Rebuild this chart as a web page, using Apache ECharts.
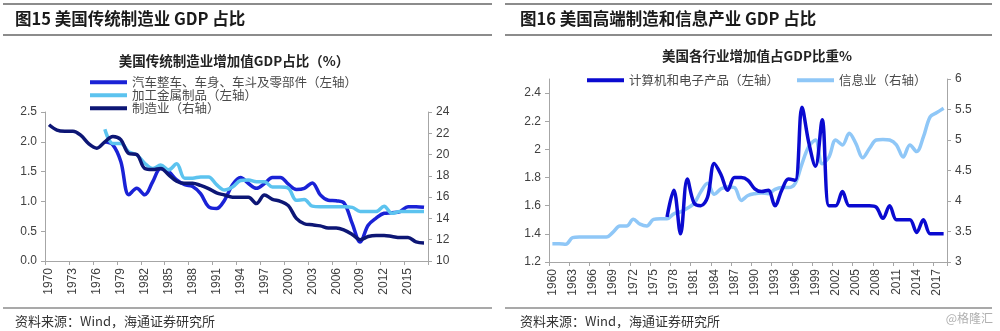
<!DOCTYPE html>
<html>
<head>
<meta charset="utf-8">
<script src="https://cdn.jsdelivr.net/npm/echarts@6/dist/echarts.min.js"></script>
<style>html,body{margin:0;padding:0;background:#fff}#c{width:1000px;height:331px}</style>
</head>
<body>
<div id="c"></div>
<script>
// ---- Left chart data (1970-2017) ----
var years1 = [];
for (var y = 1970; y <= 2017; y++) years1.push(String(y));
var autoParts = [null,null,null,null,null,null,null,
  2.00,1.95,1.67,1.11,1.22,1.11,1.33,1.55,1.50,1.36,
  1.28,1.25,1.13,0.91,0.88,1.02,1.28,1.40,1.30,1.22,
  1.30,1.40,1.40,1.29,1.20,1.22,1.31,1.11,1.02,1.01,
  0.97,0.63,0.32,0.60,0.72,0.80,0.81,0.83,0.91,0.91,
  0.90];
var metalProducts = [null,null,null,null,null,null,null,
  2.21,1.97,1.97,1.83,1.78,1.64,1.55,1.61,1.53,1.63,
  1.39,1.39,1.41,1.41,1.28,1.19,1.24,1.35,1.36,1.33,
  1.33,1.24,1.24,1.22,1.02,1.03,0.92,0.91,0.91,0.91,
  0.91,0.90,0.83,0.83,0.83,0.92,0.80,0.83,0.83,0.83,
  0.83];
var manufacturing = [22.8,22.3,22.2,22.2,21.8,21.0,20.6,21.2,21.7,21.4,
  20.1,20.0,18.7,18.6,18.7,18.1,17.5,17.3,17.3,17.1,
  16.8,16.4,16.2,16.0,16.0,16.0,15.4,16.2,15.8,15.6,
  15.2,14.0,13.5,13.4,13.3,13.1,13.1,12.9,12.5,12.0,
  12.3,12.4,12.4,12.3,12.2,12.2,11.8,11.7];

// ---- Right chart data (1960-2018) ----
var years2 = [];
for (var y2 = 1960; y2 <= 2018; y2++) years2.push(String(y2));
var computers = [null,null,null,null,null,null,null,null,null,null,
  null,null,null,null,null,null,null,
  1.52,1.71,1.40,1.79,1.62,1.60,1.66,1.90,1.82,1.71,
  1.80,1.80,1.78,1.72,1.70,1.71,1.60,1.71,1.79,1.78,
  2.30,2.05,1.88,2.21,1.60,1.60,1.70,1.60,1.60,1.60,
  1.60,1.59,1.51,1.60,1.50,1.50,1.50,1.41,1.50,1.40,
  1.40,1.40];
var information = [3.30,3.30,3.29,3.40,3.41,3.41,3.41,3.41,3.41,3.49,
  3.59,3.59,3.70,3.62,3.59,3.70,3.71,3.71,3.79,3.82,
  3.88,3.96,4.15,4.29,4.11,4.20,4.23,4.22,4.01,4.09,
  4.12,4.13,4.12,4.19,4.22,4.22,4.29,4.61,4.89,5.00,
  4.61,4.72,5.00,4.92,5.11,4.94,4.71,4.86,5.00,5.01,
  5.00,4.92,4.72,4.92,4.81,5.05,5.38,5.45,5.52];

var leftTicks1 = [0, 2.5, 0.5];
var rightTicks1 = [10, 24, 2];
var leftTicks2 = [1.2, 2.5, 0.2];
var rightTicks2 = [3, 6, 0.5];

var names = ['汽车整车、车身、车斗及零部件（左轴）','加工金属制品（左轴）','制造业（右轴）','计算机和电子产品（左轴）','信息业（右轴）'];

var FONT = '"Liberation Sans", Arial, "Noto Sans CJK SC", sans-serif';
var CJK = '"Noto Sans CJK SC", "Liberation Sans", sans-serif';
var axisGray = '#a6a6a6';
var labelColor = '#404040';

function xAx(grid, data) {
  return {
    type: 'category', gridIndex: grid, data: data, boundaryGap: true,
    axisLine: {lineStyle: {color: axisGray, width: 1}},
    axisTick: {show: true, interval: 2, length: 4, lineStyle: {color: axisGray}},
    axisLabel: {interval: 2, rotate: 90, fontSize: 12, color: labelColor, fontFamily: FONT, margin: 7}
  };
}
function yAx(grid, pos, t, fmt, hideMax) {
  return {
    type: 'value', gridIndex: grid, position: pos, min: t[0], max: t[1], interval: t[2],
    splitLine: {show: false},
    axisLine: {show: true, lineStyle: {color: axisGray, width: 1}},
    axisTick: {show: true, length: 4, lineStyle: {color: axisGray}},
    axisLabel: {fontSize: 12, color: labelColor, fontFamily: FONT, margin: 8, formatter: fmt, showMaxLabel: hideMax ? false : null}
  };
}
function line(name, xi, yi, data, color) {
  return {
    name: name, type: 'line', xAxisIndex: xi, yAxisIndex: yi, data: data,
    smooth: 0.35, showSymbol: false, symbol: 'none', connectNulls: false,
    lineStyle: {color: color, width: 3.5}, itemStyle: {color: color}
  };
}

var chart = echarts.init(document.getElementById('c'), null, {renderer: 'canvas'});
var legendBase = {
  icon: 'rect', itemWidth: 37, itemHeight: 4,
  textStyle: {fontSize: 12.5, color: '#4a4a4a', fontFamily: CJK}, itemGap: 0.5, padding: 0
};
chart.setOption({
  animation: false,
  backgroundColor: '#fff',
  grid: [
    {left: 45, top: 112, width: 383, height: 149},
    {left: 549, top: 79, width: 398, height: 183}
  ],
  xAxis: [xAx(0, years1), xAx(1, years2)],
  yAxis: [
    yAx(0, 'left', leftTicks1, function (v) { return v.toFixed(1); }),
    yAx(0, 'right', rightTicks1),
    yAx(1, 'left', leftTicks2, null, true),
    yAx(1, 'right', rightTicks2)
  ],
  legend: [
    Object.assign({}, legendBase, {orient: 'vertical', left: 90, top: 76, data: [names[0], names[1], names[2]]}),
    Object.assign({}, legendBase, {orient: 'horizontal', left: 587, top: 74, data: [names[3]]}),
    Object.assign({}, legendBase, {orient: 'horizontal', left: 797, top: 74, data: [names[4]]})
  ],
  series: [
    line(names[0], 0, 0, autoParts, '#1a22d6'),
    line(names[1], 0, 0, metalProducts, '#5cc3ef'),
    line(names[2], 0, 1, manufacturing, '#0d1675'),
    line(names[4], 1, 3, information, '#8fc7f7'),
    line(names[3], 1, 2, computers, '#0a0ad0')
  ],
  graphic: [
    {type: 'line', shape: {x1: 3, y1: 4, x2: 492, y2: 4}, style: {stroke: '#8c8c8c', lineWidth: 2}},
    {type: 'line', shape: {x1: 3, y1: 35, x2: 492, y2: 35}, style: {stroke: '#8c8c8c', lineWidth: 2}},
    {type: 'line', shape: {x1: 505, y1: 4, x2: 992, y2: 4}, style: {stroke: '#8c8c8c', lineWidth: 2}},
    {type: 'line', shape: {x1: 505, y1: 35, x2: 992, y2: 35}, style: {stroke: '#8c8c8c', lineWidth: 2}},
    {type: 'line', shape: {x1: 3, y1: 308, x2: 492, y2: 308}, style: {stroke: '#8c8c8c', lineWidth: 1.5}},
    {type: 'line', shape: {x1: 505, y1: 308, x2: 992, y2: 308}, style: {stroke: '#8c8c8c', lineWidth: 1.5}},
    {type: 'text', style: {text: '图15 美国传统制造业 GDP 占比', x: 15, y: 19, textVerticalAlign: 'middle', font: 'bold 16.5px ' + CJK, fill: '#1a1a1a'}},
    {type: 'text', style: {text: '图16 美国高端制造和信息产业 GDP 占比', x: 520, y: 19, textVerticalAlign: 'middle', font: 'bold 16.5px ' + CJK, fill: '#1a1a1a'}},
    {type: 'text', style: {text: '美国传统制造业增加值GDP占比（%）', x: 234, y: 61, textAlign: 'center', textVerticalAlign: 'middle', font: 'bold 13.5px ' + CJK, fill: '#222'}},
    {type: 'text', style: {text: '美国各行业增加值占GDP比重%', x: 757, y: 56, textAlign: 'center', textVerticalAlign: 'middle', font: 'bold 13.5px ' + CJK, fill: '#222'}},
    {type: 'text', style: {text: '资料来源：Wind，海通证券研究所', x: 15, y: 321, textVerticalAlign: 'middle', font: '13px ' + CJK, fill: '#333'}},
    {type: 'text', style: {text: '资料来源：Wind，海通证券研究所', x: 520, y: 321, textVerticalAlign: 'middle', font: '13px ' + CJK, fill: '#333'}},
    {type: 'text', style: {text: '@格隆汇', x: 993, y: 318, textAlign: 'right', textVerticalAlign: 'middle', font: '12px ' + CJK, fill: '#b0b0b0'}}
  ]
});
</script>
</body>
</html>
